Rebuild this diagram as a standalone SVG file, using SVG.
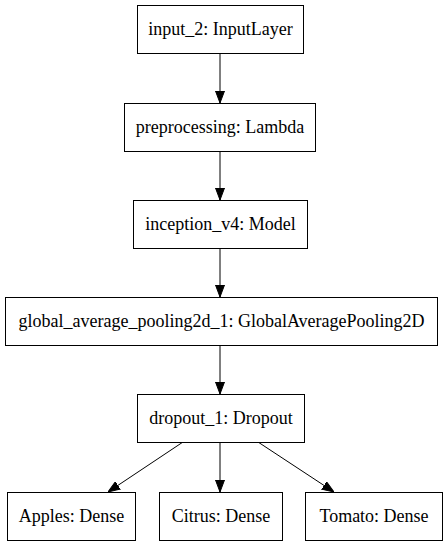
<svg xmlns="http://www.w3.org/2000/svg" width="445" height="547" viewBox="0 0 445 547">
<style>
.box{fill:#fff;stroke:#000;stroke-width:1}
.edge{stroke:#000;stroke-width:1;fill:none;marker-end:url(#ah)}
</style>
<defs>
<marker id="ah" markerWidth="12" markerHeight="10" refX="12" refY="5" orient="auto" markerUnits="userSpaceOnUse">
<path d="M0,0.5 L12,5 L0,9.5 Z" fill="#000" stroke="#000" stroke-width="1"/>
</marker>
</defs>
<rect width="445" height="547" fill="#fff"/>
<g id="connectors">
<line class="edge" x1="220" y1="53" x2="220" y2="103"/>
<line class="edge" x1="220" y1="151" x2="220" y2="200"/>
<line class="edge" x1="220" y1="248" x2="220" y2="297"/>
<line class="edge" x1="220" y1="345" x2="220" y2="394"/>
<line class="edge" x1="183" y1="442" x2="108" y2="492"/>
<line class="edge" x1="220" y1="442" x2="220" y2="492"/>
<line class="edge" x1="258" y1="442" x2="334" y2="492"/>
</g>
<g font-family="Liberation Serif, serif" font-size="18" text-anchor="middle" fill="#000">
<g id="input_2"><rect class="box" x="137.5" y="5.5" width="166" height="48"/><text x="220.5" y="35">input_2: InputLayer</text></g>
<g id="preprocessing"><rect class="box" x="124.5" y="103.5" width="191" height="48"/><text x="220" y="133">preprocessing: Lambda</text></g>
<g id="inception_v4"><rect class="box" x="133.5" y="200.5" width="174" height="48"/><text x="220.5" y="230">inception_v4: Model</text></g>
<g id="global_average_pooling2d_1"><rect class="box" x="5.5" y="297.5" width="432" height="48"/><text x="221.5" y="327">global_average_pooling2d_1: GlobalAveragePooling2D</text></g>
<g id="dropout_1"><rect class="box" x="137.5" y="394.5" width="167" height="48"/><text x="221" y="424">dropout_1: Dropout</text></g>
<g id="Apples"><rect class="box" x="7.5" y="492.5" width="128" height="48"/><text x="71.5" y="522">Apples: Dense</text></g>
<g id="Citrus"><rect class="box" x="159.5" y="492.5" width="123" height="48"/><text x="221" y="522">Citrus: Dense</text></g>
<g id="Tomato"><rect class="box" x="305.5" y="492.5" width="137" height="48"/><text x="374" y="522">Tomato: Dense</text></g>
</g>
</svg>
